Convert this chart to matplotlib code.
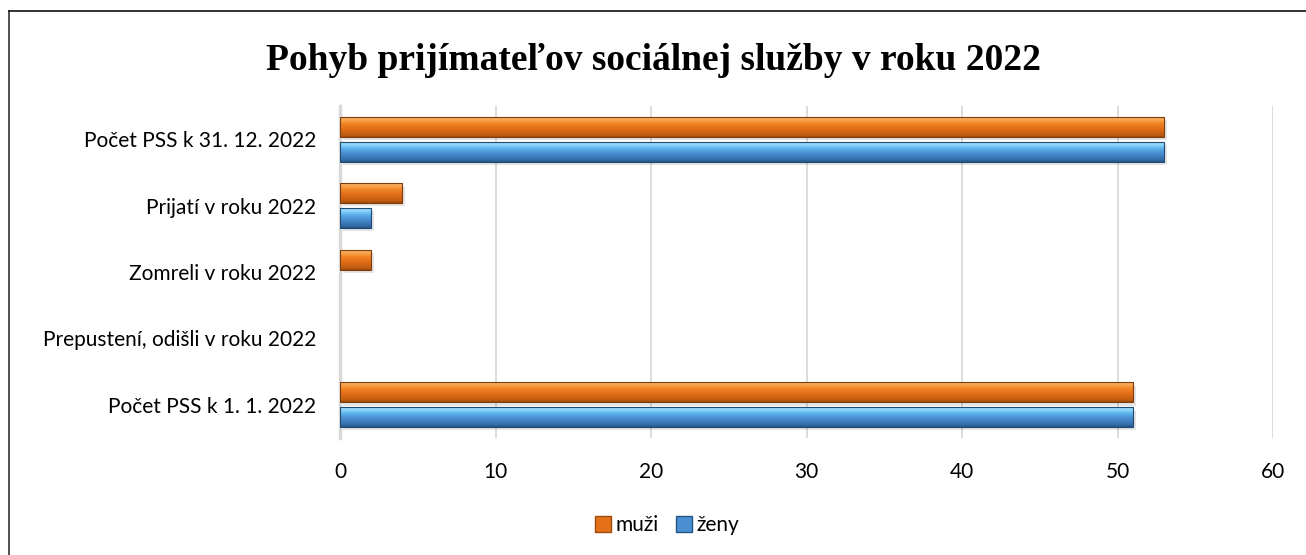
import numpy as np
import matplotlib
matplotlib.use("Agg")
import matplotlib.pyplot as plt
from matplotlib.colors import LinearSegmentedColormap
from matplotlib.lines import Line2D

categories = ["Počet PSS k 1. 1. 2022", "Prepustení, odišli v roku 2022",
              "Zomreli v roku 2022", "Prijatí v roku 2022", "Počet PSS k 31. 12. 2022"]
muzi = [51, 0, 2, 4, 53]
zeny = [51, 0, 0, 2, 53]
xticks = [0, 10, 20, 30, 40, 50, 60]
title = "Pohyb prijímateľov sociálnej služby v roku 2022"

plt.rcParams['font.family'] = ['Lato', 'DejaVu Sans']

fig = plt.figure(figsize=(13.06, 5.55), dpi=100)
ax = fig.add_axes([340/1306, 1-438/555, 933/1306, 332/555])

y = np.arange(len(categories))
h = 0.30
off = 0.187

orange_cmap = LinearSegmentedColormap.from_list("o", [
    (0.0, "#9c4c0e"), (0.10, "#c05c10"), (0.45, "#e5701a"), (0.68, "#ef8526"),
    (0.84, "#f9a24a"), (1.0, "#f0b06e")])
blue_cmap = LinearSegmentedColormap.from_list("b", [
    (0.0, "#265482"), (0.10, "#346ca6"), (0.45, "#4a8fd2"), (0.68, "#5cb0ec"),
    (0.84, "#86d4fb"), (1.0, "#a2d9f3")])

def draw(vals, pos, cmap, edge):
    vals = np.asarray(vals, dtype=float)
    shown = vals > 0
    # soft shadow
    ax.barh(pos[shown] - 0.05, vals[shown], height=h, left=0.2, color="#000000",
            alpha=0.10, linewidth=0, zorder=2)
    bars = ax.barh(pos[shown], vals[shown], height=h, color="none", edgecolor=edge,
                   linewidth=0.8, zorder=4)
    grad = np.linspace(0, 1, 64).reshape(-1, 1)
    for p in bars:
        x0, y0 = p.get_x(), p.get_y()
        w, hh = p.get_width(), p.get_height()
        im = ax.imshow(grad, cmap=cmap, aspect="auto", origin="lower",
                       extent=[x0, x0 + w, y0, y0 + hh], zorder=3,
                       interpolation="bilinear")
        im.set_clip_path(p)
    return bars

draw(muzi, y + off, orange_cmap, "#7e3d0b")
draw(zeny, y - off, blue_cmap, "#214a73")

ax.set_xlim(0, 60)
ax.set_ylim(-0.5, len(categories) - 0.5)
ax.set_xticks(xticks)
ax.set_xticklabels([str(t) for t in xticks], fontsize=15)
ax.set_yticks(y)
ax.set_yticklabels(categories, fontsize=15)
ax.tick_params(axis='y', length=0, pad=17)
ax.tick_params(axis='x', length=0, pad=17)
ax.grid(axis='x', color="#d9d9d9", linewidth=1.3, zorder=0)
ax.set_axisbelow(True)
for s in ["top", "right", "bottom"]:
    ax.spines[s].set_visible(False)
ax.spines["left"].set_color("#d9d9d9")
ax.spines["left"].set_linewidth(2.5)
ax.spines["left"].set_zorder(1)

fig.text(0.5, 1 - 60/555, title, ha="center", va="center", fontsize=27,
         fontweight="bold", family="Liberation Serif")

handles = [Line2D([], [], marker="s", linestyle="none", markersize=11,
                  markerfacecolor="#e5701a", markeredgecolor="#9c4c0e"),
           Line2D([], [], marker="s", linestyle="none", markersize=11,
                  markerfacecolor="#4a8fd2", markeredgecolor="#265482")]
fig.legend(handles, ["muži", "ženy"], loc="center", bbox_to_anchor=(666/1306, 1 - 525/555),
           ncol=2, frameon=False, fontsize=15, handletextpad=0.1, columnspacing=0.7,
           handlelength=1.0)

# figure border (top and left)
fig.add_artist(Line2D([9/1306, 9/1306], [0, 1 - 11/555], color="#333333", lw=1.2,
                      transform=fig.transFigure))
fig.add_artist(Line2D([9/1306, 1], [1 - 11/555, 1 - 11/555], color="#111111", lw=1.2,
                      transform=fig.transFigure))

fig.savefig("out.png", dpi=100)
